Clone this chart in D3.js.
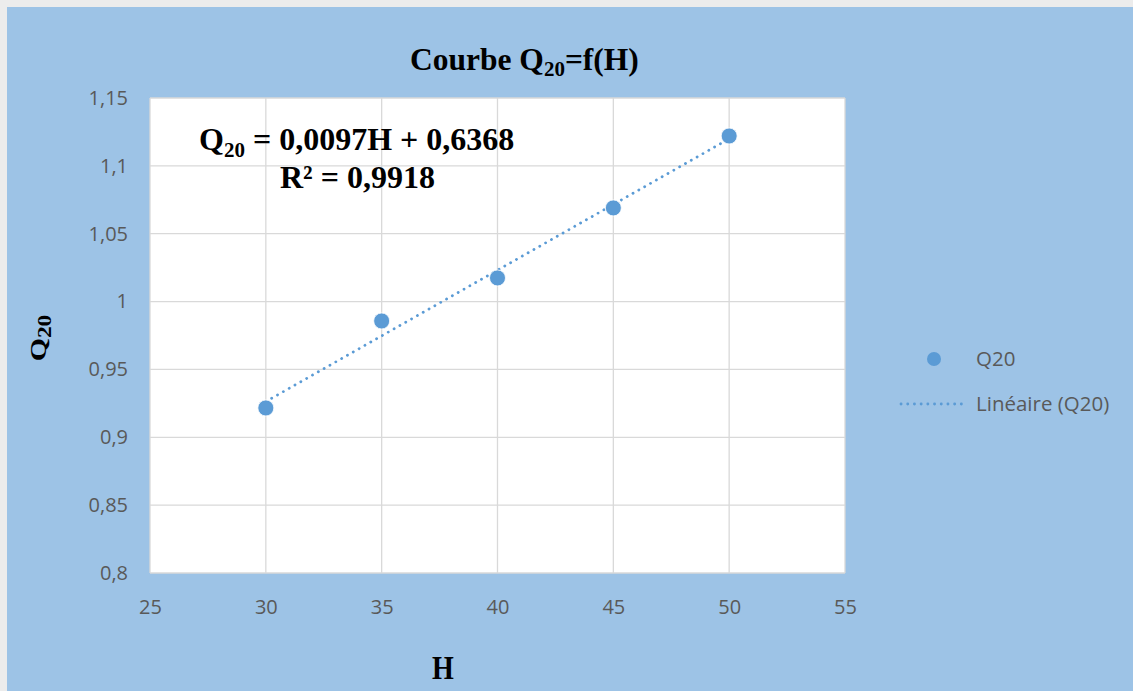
<!DOCTYPE html>
<html><head><meta charset="utf-8">
<script src="https://cdn.jsdelivr.net/npm/d3@7"></script>
<style>body{margin:0;background:#ececec;}svg{display:block;}</style>
</head><body>
<script>
const H = [30, 35, 40, 45, 50];
const Q20 = [0.9216, 0.9857, 1.0174, 1.069, 1.122];
const xTicks = [25, 30, 35, 40, 45, 50, 55];
const yTicks = [0.8, 0.85, 0.9, 0.95, 1, 1.05, 1.1, 1.15];
const seriesName = "Q20";
const trendName = "Linéaire (Q20)";

const W = 1133, Ht = 691;
const svg = d3.select("body").append("svg").attr("width", W).attr("height", Ht);
svg.append("rect").attr("x", 7).attr("y", 7).attr("width", W - 7).attr("height", Ht - 7).attr("fill", "#9DC3E6");

const pl = 150, pr = 845, pt = 98, pb = 573;
const x = d3.scaleLinear().domain([25, 55]).range([pl, pr]);
const y = d3.scaleLinear().domain([0.8, 1.15]).range([pb, pt]);
const fmt = v => String(+v.toFixed(2)).replace(".", ",");
const sans = "Open Sans, sans-serif";
const serif = "Liberation Serif, Times New Roman, serif";

svg.append("rect").attr("x", pl).attr("y", pt).attr("width", pr - pl).attr("height", pb - pt).attr("fill", "#fff");

// gridlines
svg.append("g").selectAll("line").data(yTicks).join("line")
  .attr("x1", pl).attr("x2", pr).attr("y1", d => y(d)).attr("y2", d => y(d))
  .attr("stroke", "#d9d9d9").attr("stroke-width", 1.3);
svg.append("g").selectAll("line").data(xTicks).join("line")
  .attr("y1", pt).attr("y2", pb).attr("x1", d => x(d)).attr("x2", d => x(d))
  .attr("stroke", "#d9d9d9").attr("stroke-width", 1.3);

// axes labels via d3 axes
const yAxis = svg.append("g").attr("transform", `translate(${pl - 19},0)`)
  .call(d3.axisLeft(y).tickValues(yTicks).tickFormat(fmt).tickSize(0));
yAxis.select(".domain").remove();
yAxis.selectAll("text").attr("fill", "#595959").attr("font-family", sans).attr("font-size", 20);

const xAxis = svg.append("g").attr("transform", `translate(0,${pb + 24})`)
  .call(d3.axisBottom(x).tickValues(xTicks).tickFormat(d => d).tickSize(0));
xAxis.select(".domain").remove();
xAxis.selectAll("text").attr("fill", "#595959").attr("font-family", sans).attr("font-size", 20);

// regression
const n = H.length, mx = d3.mean(H), my = d3.mean(Q20);
const slope = d3.sum(H, (h, i) => (h - mx) * (Q20[i] - my)) / d3.sum(H, h => (h - mx) ** 2);
const icpt = my - slope * mx;
svg.append("line")
  .attr("x1", x(H[0])).attr("y1", y(slope * H[0] + icpt))
  .attr("x2", x(H[n - 1])).attr("y2", y(slope * H[n - 1] + icpt))
  .attr("stroke", "#5B9BD5").attr("stroke-width", 2.8)
  .attr("stroke-dasharray", "0.1 6.6").attr("stroke-linecap", "round");

svg.append("g").selectAll("circle").data(H).join("circle")
  .attr("cx", d => x(d)).attr("cy", (d, i) => y(Q20[i])).attr("r", 8)
  .attr("fill", "#5B9BD5").attr("stroke", "#fff").attr("stroke-width", 0.8);

// title
const title = svg.append("text").attr("x", 410).attr("y", 70)
  .attr("font-family", serif).attr("font-weight", "bold").attr("font-size", 31.5).attr("fill", "#000");
title.append("tspan").text("Courbe Q");
title.append("tspan").text("20").attr("font-size", 21).attr("dy", 6);
title.append("tspan").text("=f(H)").attr("dy", -6);

// equation
const eq = svg.append("text").attr("x", 199).attr("y", 150)
  .attr("font-family", serif).attr("font-weight", "bold").attr("font-size", 32).attr("fill", "#000");
eq.append("tspan").text("Q");
eq.append("tspan").text("20").attr("font-size", 21).attr("dy", 7);
eq.append("tspan").text(" = 0,0097H + 0,6368").attr("dy", -7);
svg.append("text").attr("x", 280).attr("y", 188)
  .attr("font-family", serif).attr("font-weight", "bold").attr("font-size", 32).attr("fill", "#000")
  .text("R² = 0,9918");

// axis titles
const yt = svg.append("text").attr("transform", "translate(46,338) rotate(-90) scale(1.3,1)").attr("text-anchor", "middle")
  .attr("font-family", serif).attr("font-weight", "bold").attr("font-size", 23).attr("fill", "#000");
yt.append("tspan").text("Q");
yt.append("tspan").text("20").attr("font-size", 18).attr("dy", 5);
svg.append("text").attr("transform", "translate(443,679) scale(0.85,1)").attr("text-anchor", "middle")
  .attr("font-family", serif).attr("font-weight", "bold").attr("font-size", 33).attr("fill", "#000").text("H");

// legend
svg.append("circle").attr("cx", 934).attr("cy", 359).attr("r", 7).attr("fill", "#5B9BD5");
svg.append("text").attr("x", 976).attr("y", 366).attr("font-family", sans)
  .attr("font-size", 20.5).attr("fill", "#595959").text(seriesName);
svg.append("line").attr("x1", 901).attr("x2", 964).attr("y1", 404).attr("y2", 404)
  .attr("stroke", "#5B9BD5").attr("stroke-width", 2.8).attr("stroke-dasharray", "0.1 6.6").attr("stroke-linecap", "round");
svg.append("text").attr("x", 976).attr("y", 411).attr("font-family", sans)
  .attr("font-size", 20.5).attr("fill", "#595959").text(trendName);
</script>
</body></html>
